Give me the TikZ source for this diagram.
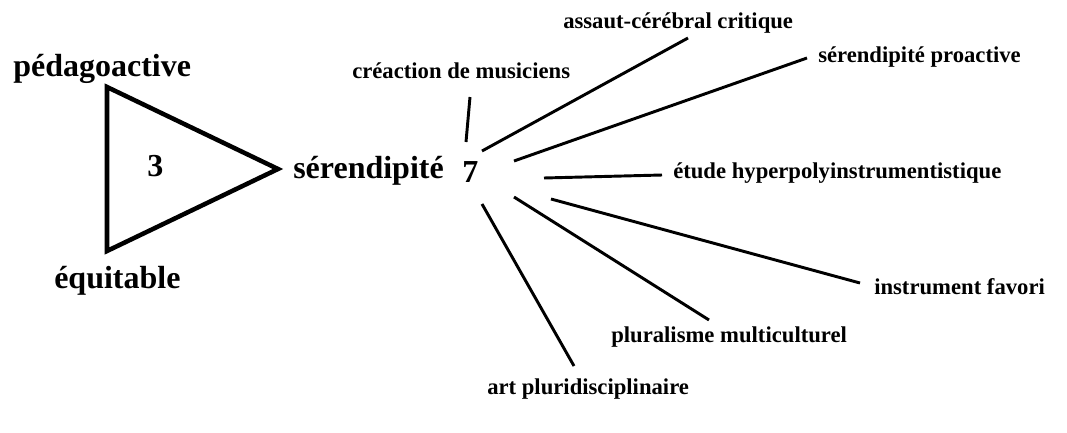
\documentclass[tikz,border=0pt]{standalone}
\usepackage{fontspec}
\setmainfont{Liberation Serif}
\begin{document}
\begin{tikzpicture}[x=0.75pt,y=-0.75pt,
  big/.style={font=\fontsize{24}{28}\selectfont\bfseries,inner sep=0pt,anchor=base west},
  small/.style={font=\fontsize{17}{20}\selectfont\bfseries,inner sep=0pt,anchor=base west},
  spoke/.style={line width=2.2pt,line cap=butt}]
  \useasboundingbox (0,0) rectangle (1067,432);
  % triangle with its three corners
  \node[big] (peda) at (13,76) {pédagoactive};
  \node[big] (equi) at (54,288) {équitable};
  \node[big] (three) at (147,176) {3};
  \node[big] (seren) at (293,178) {sérendipité};
  \coordinate (ttop) at (107,87);
  \coordinate (tbot) at (107,251);
  \coordinate (ttip) at (278,169);
  \draw[line width=3.4pt,line join=miter] (ttop) -- (ttip) -- (tbot) -- cycle;
  % the seven around
  \node[big] (seven) at (462,182) {7};
  \node[small] (creac) at (352,78) {créaction de musiciens};
  \node[small] (assaut) at (563,28) {assaut-cérébral critique};
  \node[small] (proac) at (818,62) {sérendipité proactive};
  \node[small] (etude) at (673,178) {étude hyperpolyinstrumentistique};
  \node[small] (instr) at (874,294) {instrument favori};
  \node[small] (plura) at (611,342) {pluralisme multiculturel};
  \node[small] (art) at (487,394) {art pluridisciplinaire};
  \coordinate (c1) at (466,142); \coordinate (c2) at (470,97);
  \coordinate (a1) at (482,151); \coordinate (a2) at (688,38);
  \coordinate (p1) at (514,161); \coordinate (p2) at (807,58);
  \coordinate (e1) at (544,178); \coordinate (e2) at (662,175);
  \coordinate (i1) at (551,199); \coordinate (i2) at (860,283);
  \coordinate (m1) at (514,197); \coordinate (m2) at (709,320);
  \coordinate (r1) at (482,204); \coordinate (r2) at (574,366);
  \draw[spoke] (c1) -- (c2);
  \draw[spoke] (a1) -- (a2);
  \draw[spoke] (p1) -- (p2);
  \draw[spoke] (e1) -- (e2);
  \draw[spoke] (i1) -- (i2);
  \draw[spoke] (m1) -- (m2);
  \draw[spoke] (r1) -- (r2);
\end{tikzpicture}
\end{document}
